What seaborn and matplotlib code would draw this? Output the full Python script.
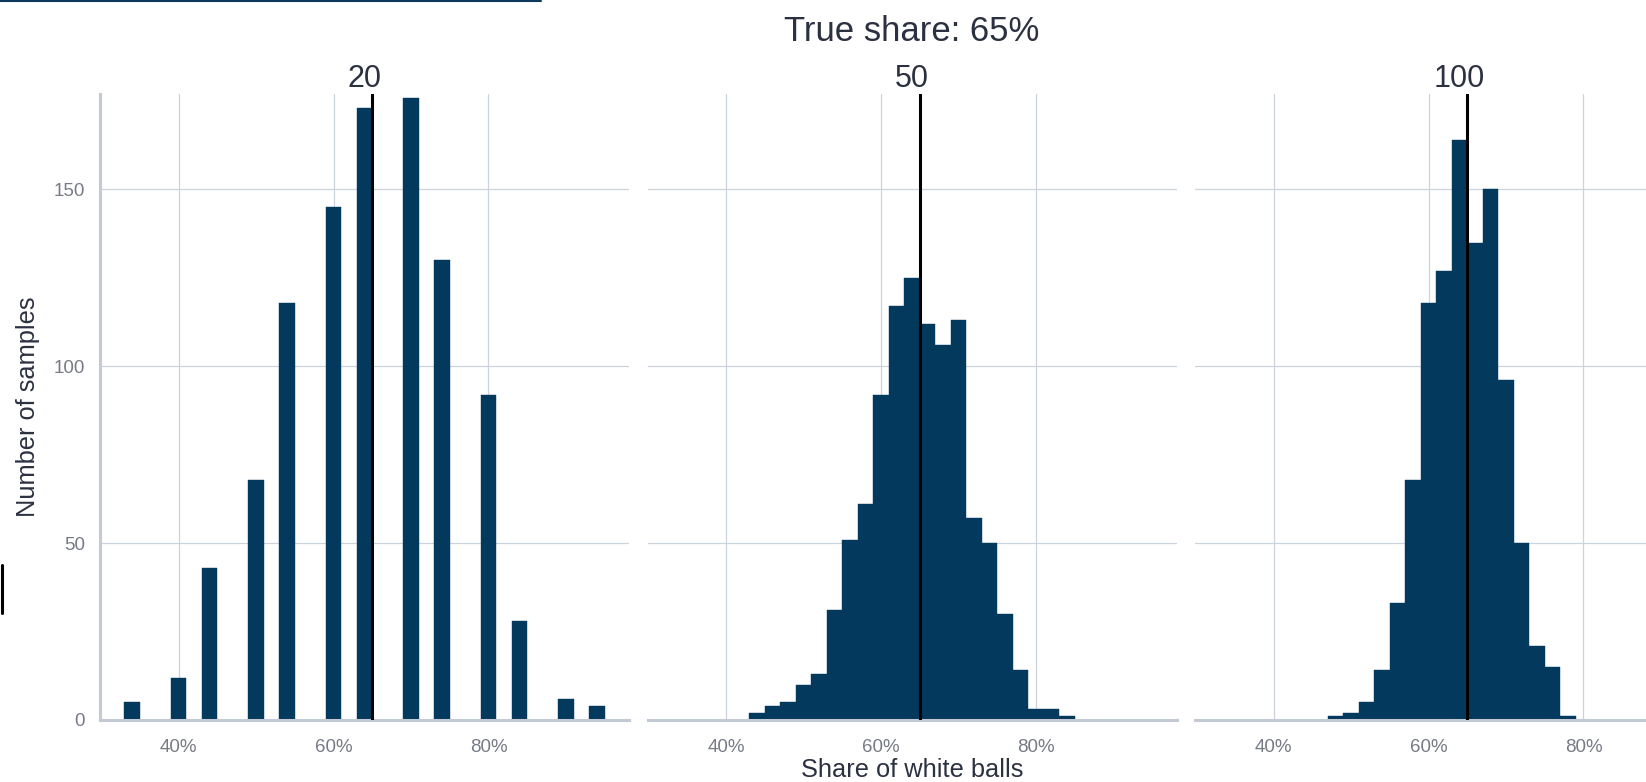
import pandas as pd
import matplotlib.pyplot as plt
import seaborn as sns
from matplotlib.ticker import PercentFormatter
from matplotlib.lines import Line2D

# ---------- data ----------
true_share = 0.65
sample_sizes = ['20', '50', '100']
x_ticks = [0.4, 0.6, 0.8]
y_ticks = [0, 50, 100, 150]

# bin centres (share of white balls) and number of samples in each bin
share_20 = [0.34, 0.40, 0.44, 0.50, 0.54, 0.60, 0.64, 0.70, 0.74, 0.80, 0.84, 0.90, 0.94]
count_20 = [5, 12, 43, 68, 118, 145, 173, 176, 130, 92, 28, 6, 4]

share_50 = [0.44, 0.46, 0.48, 0.50, 0.52, 0.54, 0.56, 0.58, 0.60, 0.62, 0.64,
            0.66, 0.68, 0.70, 0.72, 0.74, 0.76, 0.78, 0.80, 0.82, 0.84]
count_50 = [2, 4, 5, 10, 13, 31, 51, 61, 92, 117, 125,
            112, 106, 113, 57, 50, 30, 14, 3, 3, 1]

share_100 = [0.48, 0.50, 0.52, 0.54, 0.56, 0.58, 0.60, 0.62,
             0.64, 0.66, 0.68, 0.70, 0.72, 0.74, 0.76, 0.78]
count_100 = [1, 2, 5, 14, 33, 68, 118, 127,
             164, 135, 150, 96, 50, 21, 15, 1]

# ---------- style ----------
bar_color = '#03395c'
grid_color = '#cdd3dc'
axis_color = '#c3cad5'
text_color = '#2b3140'
tick_color = '#777b86'

sns.set_theme(style='white')
plt.rcParams['font.family'] = ['Liberation Sans', 'DejaVu Sans']

W, H = 1646, 782
fig = plt.figure(figsize=(W / 100, H / 100), dpi=100)

panel_left = [100, 647.5, 1195]   # px, panels share one width
panel_w, top, bottom = 529, 94, 720

panels = zip(sample_sizes, [share_20, share_50, share_100],
             [count_20, count_50, count_100])

for i, (label, share, count) in enumerate(panels):
    df = pd.DataFrame({'share': share, 'count': count})
    ax = fig.add_axes([panel_left[i] / W, (H - bottom) / H,
                       panel_w / W, (bottom - top) / H])
    sns.histplot(data=df, x='share', weights='count', binwidth=0.02,
                 binrange=(0.29, 0.99), ax=ax, color=bar_color, alpha=1,
                 edgecolor=bar_color, linewidth=0.3)
    ax.axvline(true_share, color='black', lw=2.2, zorder=3)

    ax.set_xlim(0.2987, 0.9813)
    ax.set_ylim(0, 177)
    ax.set_xticks(x_ticks)
    ax.set_yticks(y_ticks)
    ax.xaxis.set_major_formatter(PercentFormatter(1.0, decimals=0))
    ax.grid(True, color=grid_color, lw=0.9)
    ax.set_axisbelow(True)
    ax.tick_params(axis='both', length=0, labelsize=13.5, labelcolor=tick_color)
    ax.tick_params(axis='x', pad=14)
    ax.tick_params(axis='y', pad=11)

    for s in ['top', 'right', 'left']:
        ax.spines[s].set_visible(False)
    ax.spines['bottom'].set_color(axis_color)
    ax.spines['bottom'].set_linewidth(2.2)
    if i == 0:
        ax.spines['left'].set_visible(True)
        ax.spines['left'].set_color(axis_color)
        ax.spines['left'].set_linewidth(2.2)
    else:
        ax.tick_params(axis='y', labelleft=False)

    ax.set_title(label, fontsize=22, color=text_color, pad=4.8)
    ax.set_xlabel('')
    ax.set_ylabel('')

fig.text(912 / W, 1 - 40.7 / H, f'True share: {true_share:.0%}',
         ha='center', va='baseline', fontsize=25, color=text_color)
fig.text(912 / W, 5 / H, 'Share of white balls',
         ha='center', va='baseline', fontsize=18.3, color=text_color)
fig.text(28 / W, 1 - 407 / H, 'Number of samples', rotation=90,
         ha='center', va='center', fontsize=18.3, color=text_color)

# page furniture visible in the screenshot
fig.add_artist(Line2D([0, 541 / W], [1 - 1 / H, 1 - 1 / H], color='#0b3a5e', lw=1.5))
fig.add_artist(Line2D([1.5 / W, 1.5 / W], [1 - 565 / H, 1 - 613 / H], color='black', lw=2.2))

plt.savefig('out.png', dpi=100)
